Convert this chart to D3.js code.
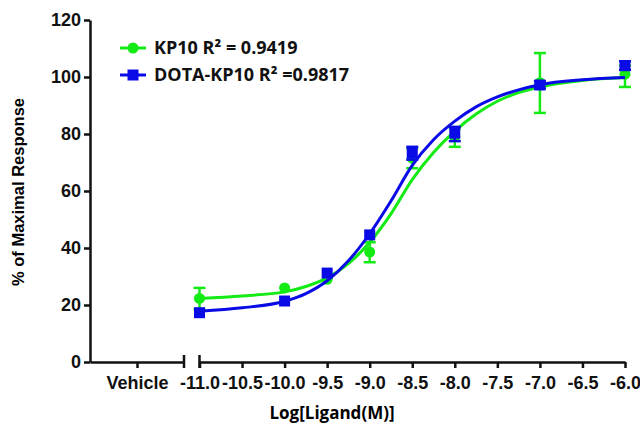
<!DOCTYPE html>
<html>
<head>
<meta charset="utf-8">
<title>KP10 dose response</title>
<script src="https://cdn.jsdelivr.net/npm/d3@7"></script>
<style>
  body { margin: 0; background: #fff; }
  .tick text { font-family: "Liberation Sans", Arial, sans-serif; font-weight: bold; font-size: 18px; fill: #111; }
  .legend text { font-family: "Open Sans", sans-serif; font-weight: bold; font-size: 18px; fill: #111; }
</style>
</head>
<body>
<script>
// dose points (log M)
var doses = [-11, -10, -9.5, -9, -8.5, -8, -7, -6];

// KP10 (green) mean / low / high
var kp10Mean = [22.3, 26, 29, 38.6, 71.5, 79, 98, 101];
var kp10Low  = [18.5, 26, 29, 35, 68, 75.5, 87.4, 96.5];
var kp10High = [26, 26, 29, 42, 75, 82, 108.4, 104];

// DOTA-KP10 (blue)
var dotaMean = [17.3, 21.4, 31.2, 44.6, 73.3, 80.3, 97.2, 104];
var dotaLow  = [17.3, 21.4, 31.2, 44.6, 71, 77.5, 96, 102.5];
var dotaHigh = [17.3, 21.4, 31.2, 44.6, 75.5, 82.5, 98.5, 105.5];

// fitted curves
var curveX     = [-11, -10.5, -10, -9.75, -9.5, -9.25, -9, -8.75, -8.5, -8.25, -8, -7.75, -7.5, -7.25, -7, -6.5, -6];
var kp10Curve  = [22.3, 23.2, 24.6, 26.5, 29.5, 34.5, 42, 52, 64, 73.5, 81, 87, 91.5, 94.5, 96.5, 98.8, 99.8];
var dotaCurve  = [17.8, 19, 21.3, 24, 28.5, 35.5, 45, 56.5, 69, 78, 84.5, 89.5, 93, 95.5, 97.3, 99, 99.8];

var yTicks = [0, 20, 40, 60, 80, 100, 120];
var xTicks = [-11, -10.5, -10, -9.5, -9, -8.5, -8, -7.5, -7, -6.5, -6];
var vehicle = ["Vehicle"];
var legendLabels = ["KP10 R\u00b2 = 0.9419", "DOTA-KP10 R\u00b2 =0.9817"];

var w = 640, h = 426;
var green = "#14ea14", blue = "#0a0ae6";

var svg = d3.select("body").append("svg").attr("width", w).attr("height", h);

var y = d3.scaleLinear().domain([0, 120]).range([362, 20]);
var x = d3.scaleLinear().domain([-11, -6]).range([199.5, 625]);
var xv = d3.scalePoint().domain(vehicle).range([90, 184]).padding(0.5);

// axes
var yAxis = d3.axisLeft(y).tickValues(yTicks).tickSize(6).tickSizeOuter(0).tickPadding(3);
var gy = svg.append("g").attr("transform", "translate(90,0)").call(yAxis);

var xAxis = d3.axisBottom(x).tickValues(xTicks).tickSize(6).tickSizeOuter(0).tickPadding(8);
var gx = svg.append("g").attr("transform", "translate(0,362)").call(xAxis);

var vAxis = d3.axisBottom(xv).tickSize(6).tickSizeOuter(0).tickPadding(8);
var gv = svg.append("g").attr("transform", "translate(0,362)").call(vAxis);

svg.selectAll(".domain, .tick line").attr("stroke", "#111").attr("stroke-width", 2.5);
gx.selectAll(".tick text").text(function(d) { return d3.format(".1f")(d).replace("\u2212", "-"); });

// break caps
[184, x(-11)].forEach(function(px) {
  svg.append("line").attr("x1", px).attr("x2", px).attr("y1", 355).attr("y2", 368)
    .attr("stroke", "#111").attr("stroke-width", 2.5);
});

// axis titles
svg.append("text").attr("transform", "translate(24,192)rotate(-90)").attr("text-anchor", "middle")
  .style("font-family", "Liberation Sans, Arial, sans-serif").style("font-weight", "bold").style("font-size", "16.5px")
  .text("% of Maximal Response");
svg.append("text").attr("x", 332).attr("y", 419).attr("text-anchor", "middle")
  .style("font-family", "Open Sans, sans-serif").style("font-weight", "bold").style("font-size", "17px")
  .text("Log[Ligand(M)]");

var line = d3.line().x(function(d) { return x(d[0]); }).y(function(d) { return y(d[1]); }).curve(d3.curveMonotoneX);

function drawSeries(mean, low, high, curve, color, shape) {
  var g = svg.append("g");
  g.append("path").datum(d3.zip(curveX, curve)).attr("d", line)
    .attr("fill", "none").attr("stroke", color).attr("stroke-width", 3);
  var pts = doses.map(function(d, i) { return {x: d, m: mean[i], lo: low[i], hi: high[i]}; });
  var eb = g.selectAll("g.eb").data(pts.filter(function(p) { return p.hi - p.lo > 0.5; })).enter().append("g");
  eb.append("line").attr("x1", function(p) { return x(p.x); }).attr("x2", function(p) { return x(p.x); })
    .attr("y1", function(p) { return y(p.lo); }).attr("y2", function(p) { return y(p.hi); })
    .attr("stroke", color).attr("stroke-width", 2.5);
  ["lo", "hi"].forEach(function(k) {
    eb.append("line").attr("x1", function(p) { return x(p.x) - 6; }).attr("x2", function(p) { return x(p.x) + 6; })
      .attr("y1", function(p) { return y(p[k]); }).attr("y2", function(p) { return y(p[k]); })
      .attr("stroke", color).attr("stroke-width", 2.5);
  });
  if (shape === "circle") {
    g.selectAll("circle").data(pts).enter().append("circle")
      .attr("cx", function(p) { return x(p.x); }).attr("cy", function(p) { return y(p.m); })
      .attr("r", 5.5).attr("fill", color);
  } else {
    g.selectAll("rect").data(pts).enter().append("rect")
      .attr("x", function(p) { return x(p.x) - 5.5; }).attr("y", function(p) { return y(p.m) - 5.5; })
      .attr("width", 11).attr("height", 11).attr("fill", color);
  }
}

drawSeries(kp10Mean, kp10Low, kp10High, kp10Curve, green, "circle");
drawSeries(dotaMean, dotaLow, dotaHigh, dotaCurve, blue, "square");

// legend
var legend = svg.append("g").attr("class", "legend");
var colors = [green, blue];
legendLabels.forEach(function(lbl, i) {
  var ly = 48 + i * 27;
  legend.append("line").attr("x1", 120).attr("x2", 146).attr("y1", ly).attr("y2", ly)
    .attr("stroke", colors[i]).attr("stroke-width", 3);
  if (i === 0) {
    legend.append("circle").attr("cx", 133).attr("cy", ly).attr("r", 5.5).attr("fill", colors[i]);
  } else {
    legend.append("rect").attr("x", 127.5).attr("y", ly - 5.5).attr("width", 11).attr("height", 11).attr("fill", colors[i]);
  }
  legend.append("text").attr("x", 154).attr("y", ly + 6).text(lbl);
});
</script>
</body>
</html>
